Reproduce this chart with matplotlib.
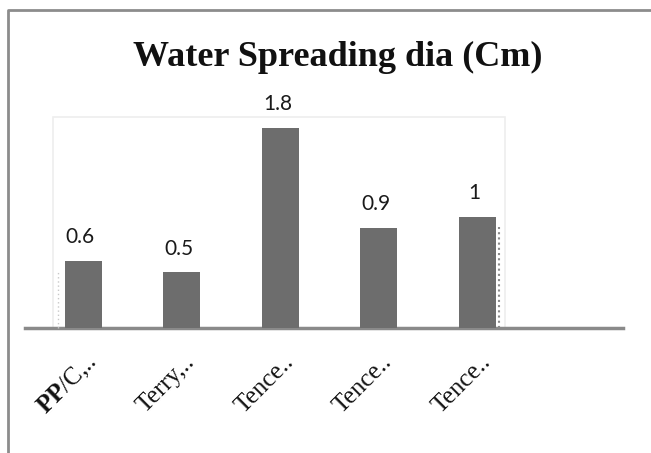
import matplotlib.pyplot as plt
from matplotlib.lines import Line2D
from matplotlib.patches import Rectangle
from matplotlib.transforms import ScaledTranslation

plt.rcParams["mathtext.fontset"] = "custom"
plt.rcParams["mathtext.rm"] = "Liberation Serif"
plt.rcParams["mathtext.bf"] = "Liberation Serif:bold"

# Water spreading diameter per fabric sample
categories = [r"$\mathbf{PP}$/C,..", "Terry,..", "Tence..", "Tence..", "Tence.."]
spread_dia = [0.6, 0.5, 1.8, 0.9, 1.0]
value_labels = ["0.6", "0.5", "1.8", "0.9", "1"]

W, H = 651, 453
fig = plt.figure(figsize=(W / 100, H / 100), dpi=100)
ax = fig.add_axes([25 / W, 125 / H, 598 / W, 211 / H])
ax.patch.set_visible(False)

x = list(range(len(categories)))
bars = ax.bar(x, spread_dia, width=0.375, color="#6d6d6d", zorder=3)

for rect, txt in zip(bars, value_labels):
    ax.annotate(txt, (rect.get_x() + rect.get_width() / 2, rect.get_height()),
                xytext=(-2, 10), textcoords="offset points",
                ha="center", va="bottom", fontsize=15, family="Lato",
                color="#1a1a1a")

ax.set_xlim(-0.59, 5.48)
ax.set_ylim(0, 1.9)

for side in ("left", "right", "top"):
    ax.spines[side].set_visible(False)
ax.spines["bottom"].set_color("#8a8a8a")
ax.spines["bottom"].set_linewidth(2.5)
ax.set_yticks([])

ax.set_xticks(x)
ax.set_xticklabels(categories, rotation=45, ha="right", va="center",
                   rotation_mode="anchor", family="Liberation Serif",
                   fontsize=18, color="#111111")
ax.tick_params(axis="x", length=0, pad=22)
shift = ScaledTranslation(10 / 100, 0, fig.dpi_scale_trans)
for lbl in ax.get_xticklabels():
    lbl.set_transform(lbl.get_transform() + shift)

# faint plot-area outline behind the bars
fig.add_artist(Rectangle((53 / W, 125 / H), 452 / W, 211 / H,
                         transform=fig.transFigure, fill=False,
                         edgecolor="#eeeeee", linewidth=1.2, zorder=0))

# dotted guides next to the first and last bars
fig.add_artist(Line2D([58 / W, 58 / W], [125 / H, 183 / H],
                      transform=fig.transFigure, color="#c8c8c8",
                      linestyle=(0, (1, 2)), linewidth=1))
fig.add_artist(Line2D([499 / W, 499 / W], [125 / H, 226 / H],
                      transform=fig.transFigure, color="#8a8a8a",
                      linestyle=(0, (1, 1.5)), linewidth=1.5))

# outer chart frame (left and top edges)
fig.add_artist(Line2D([8 / W, 8 / W, 1.0], [0.0, 1 - 9.5 / H, 1 - 9.5 / H],
                      transform=fig.transFigure, color="#8c8c8c",
                      linewidth=2))

fig.text(338 / W, 1 - 57 / H, "Water Spreading dia (Cm)", ha="center",
         va="center", family="Liberation Serif", fontweight="bold",
         fontsize=26, color="#111111")

fig.savefig("out.png", dpi=100)
